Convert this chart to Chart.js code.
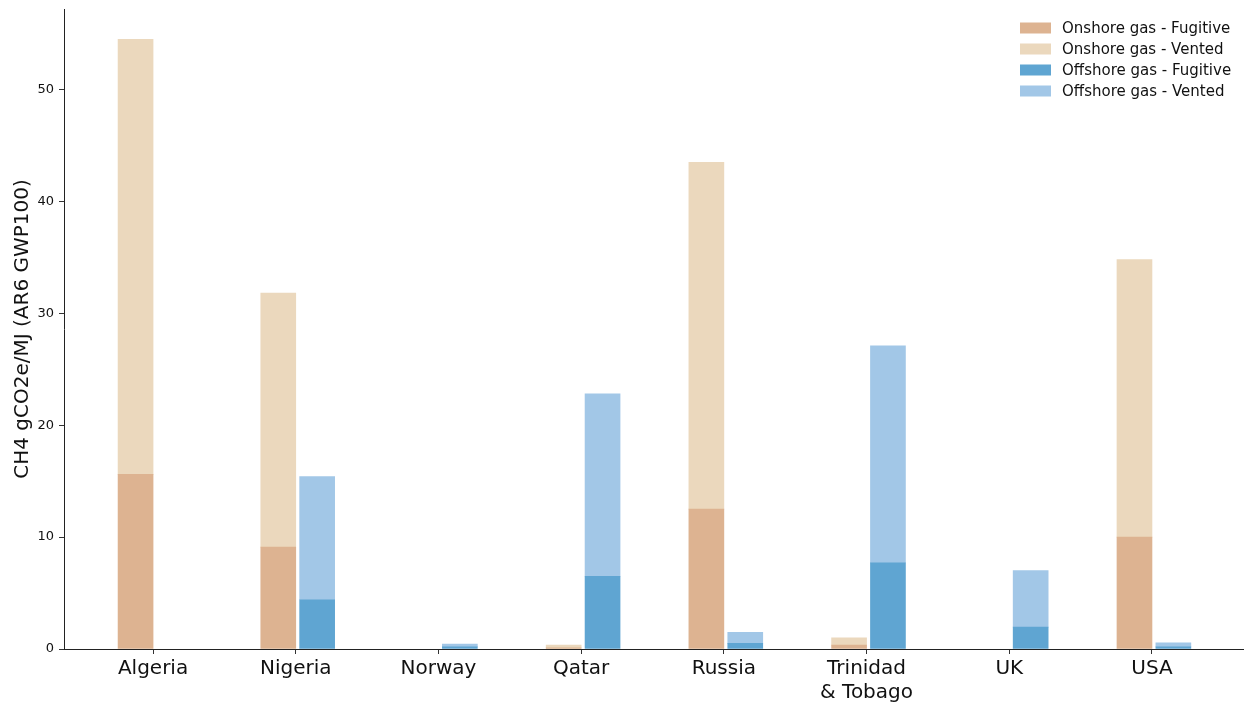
<!DOCTYPE html>
<html>
<head>
<meta charset="utf-8">
<script src="https://cdn.jsdelivr.net/npm/chart.js@4"></script>
<style>
  html, body { margin: 0; padding: 0; background: #fff; }
  #wrap { width: 1244px; height: 702px; position: relative; }
</style>
</head>
<body>
<div id="wrap"><canvas id="methaneChart"></canvas></div>
<script>
// ---- data ----
const countries = ['Algeria', 'Nigeria', 'Norway', 'Qatar', 'Russia', 'Trinidad\n& Tobago', 'UK', 'USA'];
const onshoreFugitive  = [15.6, 9.1, 0,    0.1,  12.5, 0.35, 0,    10.0];
const onshoreVented    = [38.9, 22.7, 0,   0.25, 31.0, 0.65, 0,    24.8];
const offshoreFugitive = [0,    4.4, 0.2,  6.5,  0.5,  7.7,  1.95, 0.2];
const offshoreVented   = [0,    11.0, 0.25, 16.3, 1.0, 19.4, 5.05, 0.35];
const yTickStep = 10;

// ---- layout bits ----
const FONT = 'DejaVu Sans';
const ONSHORE_SHIFT = -0.1225;   // bar sits just left of the tick
const OFFSHORE_SHIFT = 0.150;    // bar sits just right of the tick

// zero values get no bar at all (avoids a hairline on the axis)
function points(values, shift) {
    return values.map((v, i) => ({ x: i + shift, y: v === 0 ? null : v }));
}

const datasets = [
    { label: 'Onshore gas - Fugitive', data: points(onshoreFugitive, ONSHORE_SHIFT), stack: 'on', backgroundColor: '#ddb391' },
    { label: 'Onshore gas - Vented', data: points(onshoreVented, ONSHORE_SHIFT), stack: 'on', backgroundColor: '#ebd8bd' },
    { label: 'Offshore gas - Fugitive', data: points(offshoreFugitive, OFFSHORE_SHIFT), stack: 'off', backgroundColor: '#5fa5d2' },
    { label: 'Offshore gas - Vented', data: points(offshoreVented, OFFSHORE_SHIFT), stack: 'off', backgroundColor: '#a2c7e7' }
];
datasets.forEach(d => { d.barThickness = 35; d.grouped = false; d.borderWidth = 0; });

// legend drawn inside the plot, top right
const insideLegend = {
    id: 'insideLegend',
    afterDraw(chart) {
        const ctx = chart.ctx;
        const area = chart.chartArea;
        ctx.save();
        ctx.font = '15px "' + FONT + '"';
        ctx.textBaseline = 'middle';
        chart.data.datasets.forEach((ds, i) => {
            const y = 28 + i * 21;
            ctx.fillStyle = ds.backgroundColor;
            ctx.fillRect(area.right - 223, y - 5.5, 31, 11);
            ctx.fillStyle = '#111';
            ctx.fillText(ds.label, area.right - 181, y + 1);
        });
        ctx.restore();
    }
};

new Chart(document.getElementById('methaneChart'), {
    type: 'bar',
    data: { datasets: datasets },
    plugins: [insideLegend],
    options: {
        responsive: true,
        maintainAspectRatio: false,
        animation: false,
        layout: { padding: { top: 9, right: 1, left: 0, bottom: 0 } },
        plugins: { legend: { display: false }, tooltip: { enabled: false } },
        scales: {
            x: {
                type: 'linear',
                min: -0.624,
                max: 7.638,
                offset: false,
                afterFit: s => { s.height = 53; },
                grid: { offset: false, drawOnChartArea: false, drawTicks: true, tickLength: 5, color: '#333' },
                border: { display: true, color: '#222', width: 1 },
                ticks: {
                    stepSize: 1,
                    includeBounds: false,
                    padding: 3,
                    color: '#111',
                    font: { family: FONT, size: 20 },
                    autoSkip: false,
                    maxRotation: 0,
                    callback: v => {
                        const name = countries[Math.round(v)];
                        return name ? name.split('\n') : '';
                    }
                }
            },
            y: {
                stacked: true,
                min: 0,
                max: 57.2,
                afterFit: s => { s.width = 64; s.paddingTop = 0; s.paddingBottom = 0; },
                grid: { drawOnChartArea: false, drawTicks: true, tickLength: 5, color: '#333' },
                border: { display: true, color: '#222', width: 1 },
                ticks: {
                    stepSize: yTickStep,
                    includeBounds: false,
                    padding: 5,
                    color: '#111',
                    font: { family: FONT, size: 13 }
                },
                title: {
                    display: true,
                    text: 'CH4 gCO2e/MJ (AR6 GWP100)',
                    color: '#111',
                    font: { family: FONT, size: 20 },
                    padding: { top: 11, bottom: 0 }
                }
            }
        }
    }
});
</script>
</body>
</html>
